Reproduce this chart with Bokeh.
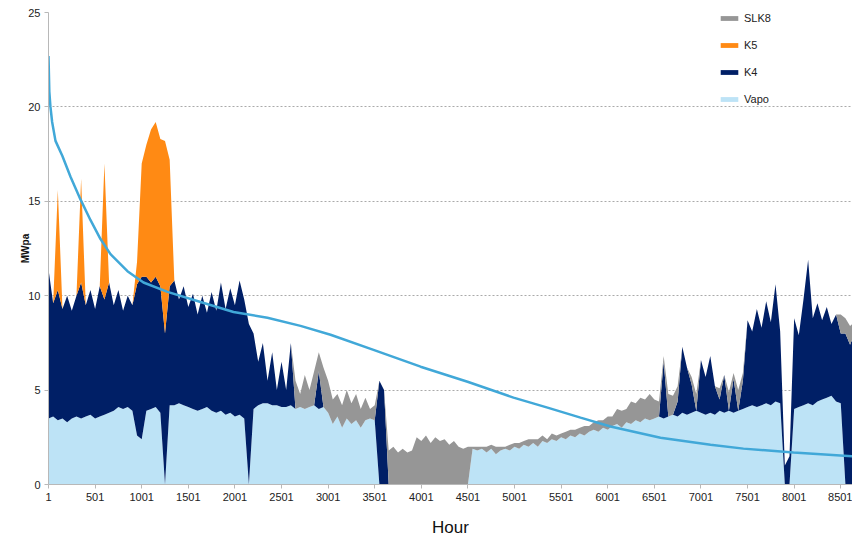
from bokeh.plotting import figure
from bokeh.models import ColumnDataSource, Legend, LegendItem, FixedTicker, Range1d
from bokeh.embed import file_html
from bokeh.resources import INLINE

# hourly samples every 50 hours, starting at hour 1
hours = [1 + 50 * i for i in range(174)]

vapo = [3.5, 3.6, 3.4, 3.5, 3.3, 3.5, 3.6, 3.5, 3.6, 3.7,
        3.5, 3.6, 3.7, 3.8, 3.9, 4.1, 4.0, 4.1, 3.9, 2.6,
        2.4, 3.9, 4.0, 4.1, 3.8, 0.0, 4.2, 4.2, 4.3, 4.2,
        4.1, 4.0, 3.9, 4.0, 4.1, 3.9, 3.8, 3.9, 3.7, 3.8,
        3.6, 3.7, 3.5, 0.0, 4.0, 4.2, 4.3, 4.3, 4.2, 4.2,
        4.1, 4.1, 4.2, 4.0, 4.1, 4.0, 4.1, 4.2, 4.0, 4.1,
        3.8, 3.2, 3.6, 3.0, 3.5, 3.2, 3.4, 3.0, 3.4, 3.5,
        3.4, 0.0, 0.0, 0.0, 0.0, 0.0, 0.0, 0.0, 0.0, 0.0,
        0.0, 0.0, 0.0, 0.0, 0.0, 0.0, 0.0, 0.0, 0.0, 0.0,
        0.0, 1.9, 1.8, 1.9, 1.7, 1.9, 1.6, 1.8, 1.9, 1.8,
        2.0, 1.9, 2.1, 2.0, 2.2, 2.0, 2.3, 2.2, 2.4, 2.3,
        2.5, 2.4, 2.6, 2.5, 2.7, 2.6, 2.8, 2.9, 2.8, 3.0,
        2.9, 3.1, 3.2, 3.0, 3.3, 3.2, 3.4, 3.3, 3.5, 3.4,
        3.5, 3.6, 3.5, 3.6, 3.7, 3.6, 3.8, 3.7, 3.8, 3.9,
        3.8, 3.7, 3.8, 3.7, 3.9, 3.8, 3.9, 3.8, 3.9, 4.0,
        4.1, 4.2, 4.1, 4.2, 4.3, 4.2, 4.4, 4.3, 0.0, 0.0,
        4.0, 4.1, 4.2, 4.3, 4.2, 4.4, 4.5, 4.6, 4.7, 4.4,
        4.3, 0.0, 0.0, 0.0]

k4 = [7.9, 6.0, 6.9, 5.8, 6.7, 5.7, 6.4, 7.2, 5.9, 6.6,
      5.8, 6.9, 6.1, 6.9, 5.6, 6.2, 5.2, 5.9, 5.6, 8.0,
      8.6, 7.1, 6.7, 6.9, 6.7, 8.0, 6.3, 6.6, 5.5, 6.3,
      5.3, 6.1, 5.1, 6.0, 5.0, 6.3, 5.4, 6.8, 5.6, 6.6,
      5.9, 7.1, 6.3, 8.5, 4.0, 2.3, 3.2, 1.2, 2.8, 0.8,
      2.4, 0.9, 3.3, 0.0, 0.0, 0.0, 0.0, 0.0, 2.0, 0.0,
      0.0, 0.0, 0.0, 0.0, 0.0, 0.0, 0.0, 0.0, 0.0, 0.0,
      0.0, 5.5, 5.0, 0.0, 0.0, 0.0, 0.0, 0.0, 0.0, 0.0,
      0.0, 0.0, 0.0, 0.0, 0.0, 0.0, 0.0, 0.0, 0.0, 0.0,
      0.0, 0.0, 0.0, 0.0, 0.0, 0.0, 0.0, 0.0, 0.0, 0.0,
      0.0, 0.0, 0.0, 0.0, 0.0, 0.0, 0.0, 0.0, 0.0, 0.0,
      0.0, 0.0, 0.0, 0.0, 0.0, 0.0, 0.0, 0.0, 0.0, 0.0,
      0.0, 0.0, 0.0, 0.0, 0.0, 0.0, 0.0, 0.0, 0.0, 0.0,
      0.0, 0.0, 3.0, 0.0, 0.0, 0.8, 3.5, 2.5, 1.5, 0.0,
      2.8, 2.0, 3.0, 1.5, 0.6, 2.0, 0.0, 1.8, 0.0, 1.5,
      4.6, 3.9, 5.2, 4.1, 5.4, 4.4, 6.2, 3.8, 1.0, 1.5,
      4.8, 3.8, 5.6, 7.6, 4.6, 5.2, 4.2, 4.8, 3.8, 4.6,
      3.7, 8.0, 7.4, 8.0]

k5 = [0.0, 0.0, 5.3, 0.0, 0.0, 0.0, 0.0, 5.5, 0.0, 0.0,
      0.0, 0.0, 7.2, 0.0, 0.0, 0.0, 0.0, 0.0, 0.0, 1.2,
      6.0, 7.0, 8.1, 8.2, 7.8, 10.2, 6.7] + [0.0] * 147

slk8 = [0.0] * 53 + [
      1.5, 0.7, 1.8, 0.9, 1.8, 1.0, 2.1,
      1.7, 1.3, 1.2, 1.2, 1.5, 1.1, 1.4, 1.0, 1.2, 0.5,
      0.8, 0.0, 0.0, 1.8, 2.0, 1.7, 1.9, 1.7, 1.8, 2.5,
      2.3, 2.6, 2.2, 2.5, 2.3, 2.4, 2.1, 2.3, 2.0, 1.9,
      2.0, 0.1, 0.2, 0.1, 0.3, 0.2, 0.4, 0.2, 0.1, 0.3,
      0.2, 0.3, 0.2, 0.4, 0.2, 0.4, 0.3, 0.2, 0.3, 0.3,
      0.2, 0.4, 0.3, 0.4, 0.3, 0.5, 0.3, 0.4, 0.6, 0.4,
      0.7, 0.5, 0.8, 0.9, 0.7, 1.2, 0.9, 1.3, 1.0, 1.4,
      1.0, 0.8, 0.3, 1.2, 1.0, 0.8, 0.0, 0.0, 0.4, 0.9,
      0.0, 0.0, 0.0, 0.0, 0.6, 0.0, 1.0, 0.3, 1.1, 0.4,
      0.0, 0.0, 0.0, 0.0, 0.0, 0.0, 0.0, 0.0, 0.0, 0.0,
      0.0, 0.0, 0.0, 0.0, 0.0, 0.0, 0.0, 0.0, 0.0, 0.0,
      1.0, 0.8, 1.0, 0.6]

curve_hours = [1, 10, 22, 40, 76, 150, 237, 344, 452, 559, 666, 848, 1020,
               1278, 1632, 1986, 2350, 2705, 3027, 3488, 3993, 4497, 4990,
               5355, 5709, 6030, 6567, 7104, 7457, 7994, 8627, 8760]
curve_values = [22.7, 20.8, 20.0, 19.2, 18.2, 17.4, 16.3, 15.1, 14.0, 13.0,
                12.2, 11.3, 10.7, 10.2, 9.67, 9.14, 8.83, 8.4, 7.93, 7.13,
                6.24, 5.44, 4.6, 4.07, 3.54, 3.07, 2.48, 2.11, 1.9, 1.69,
                1.5, 1.45]

x_ticks = [1, 501, 1001, 1501, 2001, 2501, 3001, 3501, 4001, 4501,
           5001, 5501, 6001, 6501, 7001, 7501, 8001, 8501]
y_ticks = [0, 5, 10, 15, 20, 25]

series_names = ["Vapo", "K4", "K5", "SLK8"]
series_colors = ["#bde3f6", "#001f66", "#ff8a14", "#969696"]

n = len(hours)
source = ColumnDataSource(dict(hour=hours, Vapo=vapo[:n], K4=k4[:n], K5=k5[:n], SLK8=slk8[:n]))

p = figure(width=852, height=539, output_backend="svg", toolbar_location=None,
           x_range=Range1d(1, 8627), y_range=Range1d(0, 25),
           min_border_left=48, min_border_right=0, min_border_top=12, min_border_bottom=54)
p.outline_line_color = None
p.background_fill_color = "white"

rs = p.varea_stack(stackers=series_names, x="hour", color=series_colors, source=source)

p.line(curve_hours, curve_values, line_color="#41a8d8", line_width=2.5)

font = "Liberation Sans"
p.xaxis.ticker = FixedTicker(ticks=x_ticks)
p.yaxis.ticker = FixedTicker(ticks=y_ticks)
for ax in (p.xaxis[0], p.yaxis[0]):
    ax.axis_line_color = "#b8b8b8"
    ax.major_tick_line_color = "#b8b8b8"
    ax.major_tick_out = 4
    ax.major_tick_in = 0
    ax.minor_tick_line_color = None
    ax.major_label_text_font = font
    ax.major_label_text_font_size = "11px"
    ax.major_label_text_color = "#222222"
    ax.major_label_standoff = 4

p.yaxis.axis_label = "MWpa"
p.yaxis.axis_label_text_font = font
p.yaxis.axis_label_text_font_size = "10px"
p.yaxis.axis_label_text_font_style = "bold"
p.yaxis.axis_label_text_color = "#111111"
p.yaxis.axis_label_standoff = -6

p.xaxis.axis_label = "Hour"
p.xaxis.axis_label_text_font = font
p.xaxis.axis_label_text_font_size = "17px"
p.xaxis.axis_label_text_font_style = "normal"
p.xaxis.axis_label_text_color = "#111111"
p.xaxis.axis_label_standoff = 14

p.xgrid.grid_line_color = None
p.ygrid.grid_line_color = "#aaaaaa"
p.ygrid.grid_line_dash = "2 2"
p.ygrid.grid_line_width = 1

items = [LegendItem(label=name, renderers=[r]) for name, r in zip(series_names, rs)]
items.reverse()
legend = Legend(items=items, location=(670, 375), orientation="vertical",
                glyph_width=22, glyph_height=6, label_height=20, spacing=7,
                label_standoff=4, padding=0, margin=0,
                label_text_font=font, label_text_font_size="11px", label_text_color="#222222",
                border_line_color=None, background_fill_alpha=0)
p.add_layout(legend)

open("out.html", "w").write(file_html(p, INLINE))
